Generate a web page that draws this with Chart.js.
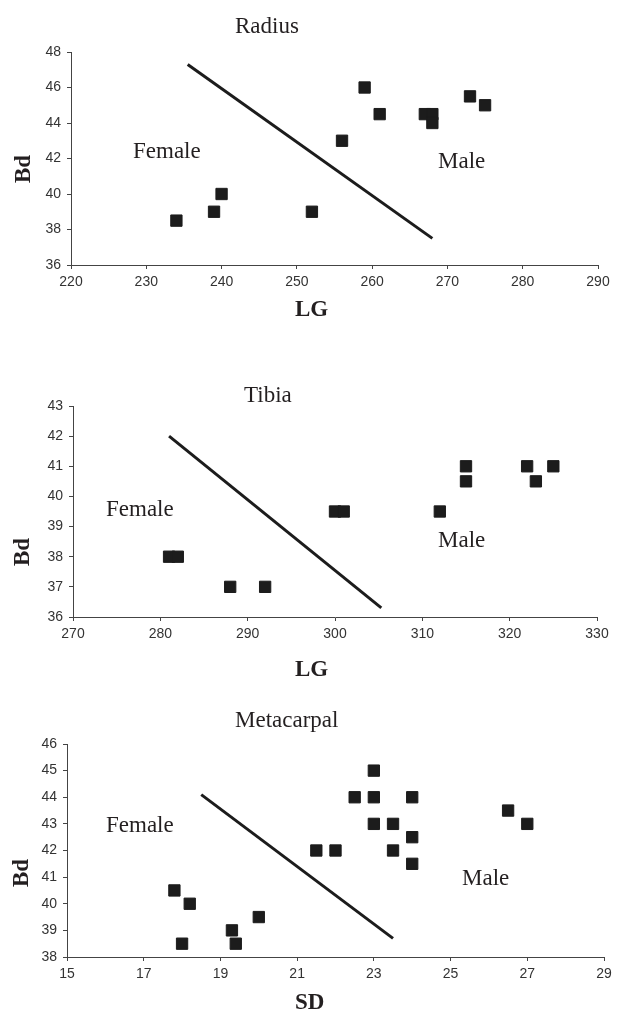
<!DOCTYPE html>
<html>
<head>
<meta charset="utf-8">
<script src="https://cdn.jsdelivr.net/npm/chart.js@4/dist/chart.umd.min.js"></script>
<style>
  body { margin: 0; background: #fff; }
  .wrap { position: relative; width: 620px; height: 1010px; overflow: hidden; }
  canvas { position: absolute; left: 0; }
</style>
</head>
<body>
<div class="wrap">
  <canvas id="radiusChart" width="620" height="330" style="top:0px"></canvas>
  <canvas id="tibiaChart" width="620" height="345" style="top:340px"></canvas>
  <canvas id="metaChart" width="620" height="325" style="top:685px"></canvas>
</div>
<script>
// Radius
const radiusLG = [234, 239, 240, 252, 256, 259, 261, 267, 268, 268, 273, 275];
const radiusBd = [38.5, 39, 40, 39, 43, 46, 44.5, 44.5, 44.5, 44, 45.5, 45];
const radiusLineLG = [235.5, 268];
const radiusLineBd = [47.3, 37.5];
const radiusXTicks = [220, 290, 10]; // min, max, step
const radiusYTicks = [36, 48, 2];

// Tibia
const tibiaLG = [281, 282, 288, 292, 300, 301, 312, 315, 315, 322, 323, 325];
const tibiaBd = [38, 38, 37, 37, 39.5, 39.5, 39.5, 41, 40.5, 41, 40.5, 41];
const tibiaLineLG = [281, 305.3];
const tibiaLineBd = [42, 36.3];
const tibiaXTicks = [270, 330, 10];
const tibiaYTicks = [36, 43, 1];

// Metacarpal
const metaSD = [17.8, 18.2, 18, 19.3, 19.4, 20, 21.5, 22, 22.5, 23, 23, 23, 23.5, 23.5, 24, 24, 24, 26.5, 27];
const metaBd = [40.5, 40, 38.5, 39, 38.5, 39.5, 42, 42, 44, 45, 44, 43, 43, 42, 44, 42.5, 41.5, 43.5, 43];
const metaLineSD = [18.5, 23.5];
const metaLineBd = [44.1, 38.7];
const metaXTicks = [15, 29, 2];
const metaYTicks = [38, 46, 1];

const ink = '#1c1c1c';
const axisColor = '#444';
const serif = "'Liberation Serif', 'Times New Roman', serif";

// draws titles, axis names and Female/Male labels at fixed canvas positions
const panelText = {
    id: 'panelText',
    afterDraw(chart, args, opts) {
        const ctx = chart.ctx;
        (opts.items || []).forEach(t => {
            ctx.save();
            ctx.font = t.font;
            ctx.fillStyle = '#231f20';
            ctx.textBaseline = 'alphabetic';
            ctx.translate(t.x, t.y);
            if (t.rotate) {
                ctx.rotate(-Math.PI / 2);
                ctx.textAlign = 'center';
            } else {
                ctx.textAlign = 'left';
            }
            ctx.fillText(t.text, 0, 0);
            ctx.restore();
        });
    }
};

function toPoints(xs, ys) {
    return xs.map((x, i) => ({ x: x, y: ys[i] }));
}

function makeChart(id, xs, ys, lineX, lineY, xTicks, yTicks, box, items) {
    const ctx = document.getElementById(id).getContext('2d');
    return new Chart(ctx, {
        type: 'scatter',
        data: {
            datasets: [
                {
                    data: toPoints(xs, ys),
                    pointStyle: 'rect',
                    pointRadius: 8,
                    pointBackgroundColor: ink,
                    pointBorderColor: ink,
                    pointBorderWidth: 1
                },
                {
                    type: 'line',
                    data: toPoints(lineX, lineY),
                    borderColor: ink,
                    borderWidth: 3,
                    pointRadius: 0,
                    fill: false
                }
            ]
        },
        options: {
            responsive: false,
            animation: false,
            layout: { padding: { top: box.top, right: box.right, left: 0, bottom: 0 } },
            plugins: {
                legend: { display: false },
                tooltip: { enabled: false },
                panelText: { items: items }
            },
            scales: {
                x: {
                    type: 'linear',
                    min: xTicks[0],
                    max: xTicks[1],
                    afterFit: s => { s.height = box.xHeight; },
                    ticks: {
                        stepSize: xTicks[2],
                        color: '#333',
                        padding: 5,
                        maxRotation: 0,
                        font: { family: "'Liberation Sans', Arial, sans-serif", size: 14 }
                    },
                    grid: { drawOnChartArea: false, drawTicks: true, tickLength: 4, color: axisColor },
                    border: { display: true, color: axisColor, width: 1 }
                },
                y: {
                    min: yTicks[0],
                    max: yTicks[1],
                    afterFit: s => { s.width = box.left; },
                    ticks: {
                        stepSize: yTicks[2],
                        color: '#333',
                        padding: 6,
                        font: { family: "'Liberation Sans', Arial, sans-serif", size: 14 }
                    },
                    grid: { drawOnChartArea: false, drawTicks: true, tickLength: 4, color: axisColor },
                    border: { display: true, color: axisColor, width: 1 }
                }
            }
        },
        plugins: [panelText]
    });
}

const regular = '23px ' + serif;
const bold = 'bold 23px ' + serif;

makeChart('radiusChart', radiusLG, radiusBd, radiusLineLG, radiusLineBd, radiusXTicks, radiusYTicks,
    { top: 52, right: 22, left: 71, xHeight: 65 },
    [
        { text: 'Radius', font: regular, x: 235, y: 33 },
        { text: 'LG', font: bold, x: 295, y: 316 },
        { text: 'Bd', font: bold, x: 30, y: 169, rotate: true },
        { text: 'Female', font: regular, x: 133, y: 158 },
        { text: 'Male', font: regular, x: 438, y: 168 }
    ]);

makeChart('tibiaChart', tibiaLG, tibiaBd, tibiaLineLG, tibiaLineBd, tibiaXTicks, tibiaYTicks,
    { top: 66, right: 23, left: 73, xHeight: 68 },
    [
        { text: 'Tibia', font: regular, x: 244, y: 62 },
        { text: 'LG', font: bold, x: 295, y: 336 },
        { text: 'Bd', font: bold, x: 29, y: 212, rotate: true },
        { text: 'Female', font: regular, x: 106, y: 176 },
        { text: 'Male', font: regular, x: 438, y: 207 }
    ]);

makeChart('metaChart', metaSD, metaBd, metaLineSD, metaLineBd, metaXTicks, metaYTicks,
    { top: 59, right: 16, left: 67, xHeight: 53 },
    [
        { text: 'Metacarpal', font: regular, x: 235, y: 42 },
        { text: 'SD', font: bold, x: 295, y: 324 },
        { text: 'Bd', font: bold, x: 28, y: 188, rotate: true },
        { text: 'Female', font: regular, x: 106, y: 147 },
        { text: 'Male', font: regular, x: 462, y: 200 }
    ]);
</script>
</body>
</html>
